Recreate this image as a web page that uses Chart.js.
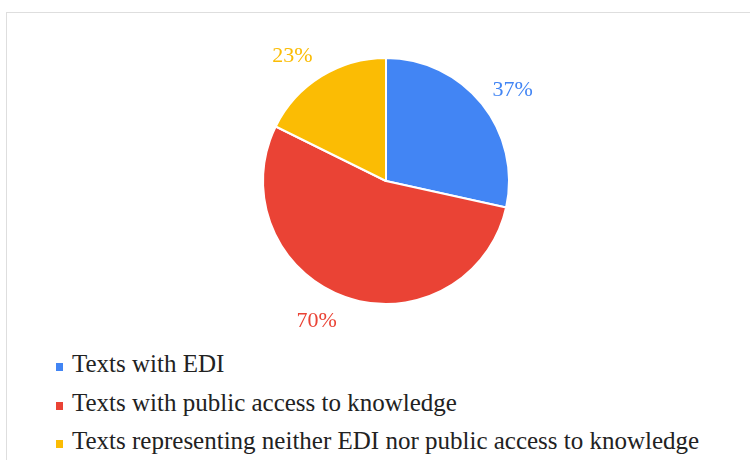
<!DOCTYPE html>
<html>
<head>
<meta charset="utf-8">
<script src="https://cdn.jsdelivr.net/npm/chart.js@4"></script>
<style>
  html, body { margin: 0; padding: 0; background: #fff; }
  body { width: 750px; height: 460px; overflow: hidden; position: relative; }
  .frame {
    position: absolute; left: 6px; top: 12px; width: 800px; height: 500px;
    border: 1px solid #dedede; box-sizing: border-box;
  }
  .chart-box { position: absolute; left: 0; top: 0; width: 750px; height: 340px; }
  .legend {
    position: absolute; left: 56px; top: 345px; margin: 0; padding: 0; list-style: none;
    font-family: "Liberation Serif", "Times New Roman", serif; font-size: 25px; color: #222;
  }
  .legend li { height: 38.5px; line-height: 38.5px; white-space: nowrap; }
  .legend .sw { display: inline-block; width: 7px; height: 8px; margin-right: 9px; vertical-align: 1px; }
</style>
</head>
<body>
<div class="frame"></div>
<div class="chart-box"><canvas id="pieChart"></canvas></div>
<ul class="legend" id="legend"></ul>
<script>
// --- data ---
const categories = [
  "Texts with EDI",
  "Texts with public access to knowledge",
  "Texts representing neither EDI nor public access to knowledge",
];
const values = [37, 70, 23];
const valueLabels = ["37%", "70%", "23%"];
const sliceColors = ["#4285f4", "#ea4335", "#fbbc04"];
// small nudges (degrees) so labels sit where the original put them
const labelNudge = [3, 7, -5];

// outside labels in slice colour
const outsideLabels = {
  id: "outsideLabels",
  afterDatasetsDraw(chart) {
    const ctx = chart.ctx;
    const arcs = chart.getDatasetMeta(0).data;
    ctx.save();
    ctx.font = '22px "Liberation Serif", serif';
    ctx.textAlign = "center";
    ctx.textBaseline = "middle";
    arcs.forEach((arc, i) => {
      const mid = (arc.startAngle + arc.endAngle) / 2 + labelNudge[i] * Math.PI / 180;
      const r = arc.outerRadius + 33;
      ctx.fillStyle = sliceColors[i];
      ctx.fillText(valueLabels[i], arc.x + Math.cos(mid) * r, arc.y + Math.sin(mid) * r);
    });
    ctx.restore();
  },
};

const pieCanvas = document.getElementById("pieChart");
new Chart(pieCanvas.getContext("2d"), {
  type: "pie",
  data: {
    labels: categories,
    datasets: [{
      data: values,
      backgroundColor: sliceColors,
      borderColor: "#ffffff",
      borderWidth: 2,
    }],
  },
  options: {
    responsive: true,
    maintainAspectRatio: false,
    animation: false,
    layout: { padding: { left: 262, right: 240, top: 57, bottom: 35 } },
    plugins: { legend: { display: false }, tooltip: { enabled: false } },
  },
  plugins: [outsideLabels],
});

// --- legend ---
const legendEl = document.getElementById("legend");
categories.forEach((name, i) => {
  const li = document.createElement("li");
  const sw = document.createElement("span");
  sw.className = "sw";
  sw.style.background = sliceColors[i];
  li.appendChild(sw);
  li.appendChild(document.createTextNode(name));
  legendEl.appendChild(li);
});
</script>
</body>
</html>
